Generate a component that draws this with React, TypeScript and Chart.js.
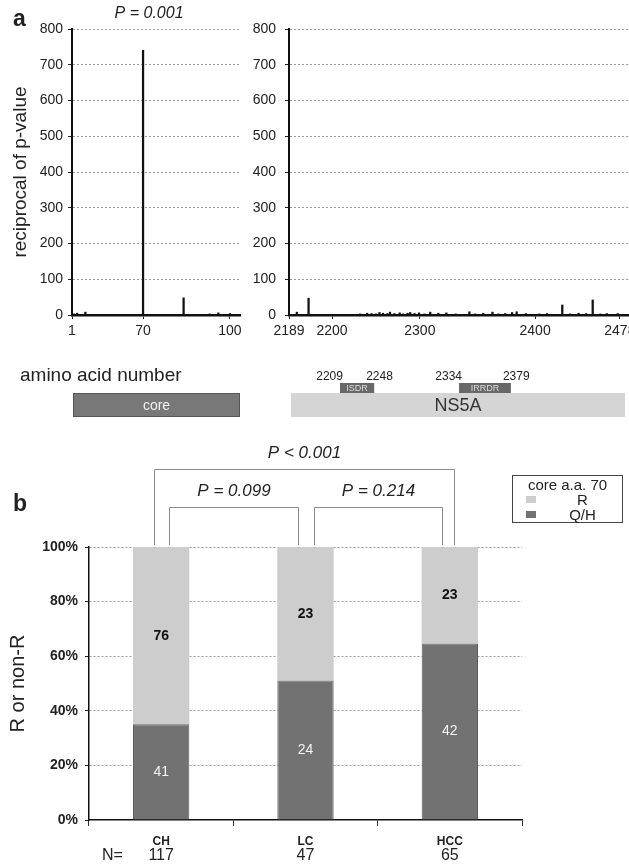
import React, { useEffect, useRef } from 'react';
import { Chart, registerables, LinearScale } from 'chart.js';

Chart.register(...registerables);

const FONT = '"Liberation Sans", Arial, Helvetica, sans-serif';
Chart.defaults.font.family = FONT;
Chart.defaults.color = '#222';

// ---------------- data ----------------
// panel a, left: core region (amino acid number -> reciprocal of p-value)
const corePositions = [3, 6, 14, 70, 84, 93, 96, 100];
const coreReciprocalP = [3, 5, 8, 740, 48, 3, 6, 4];
const coreTickValues = [1, 70, 100];
const coreTopLabel = 'P = 0.001';
const corePeakPosition = 70;

// panel a, right: NS5A region
const ns5aPositions = [2191, 2194, 2232, 2240, 2245, 2250, 2254, 2258, 2263, 2266, 2271, 2277, 2281, 2286, 2289, 2294, 2299, 2304, 2309, 2316, 2323, 2331, 2343, 2348, 2355, 2363, 2368, 2374, 2380, 2384, 2392, 2404, 2411, 2425, 2432, 2440, 2447, 2453, 2460, 2466, 2476];
const ns5aReciprocalP = [8, 47, 3, 5, 4, 3, 7, 5, 4, 8, 4, 6, 3, 5, 7, 4, 6, 3, 8, 5, 6, 3, 9, 3, 5, 8, 3, 4, 7, 9, 4, 3, 4, 28, 3, 5, 4, 42, 3, 4, 4];
const ns5aTickValues = [2189, 2200, 2300, 2400, 2478];

// NS5A sub-regions
const regionNames = ['ISDR', 'IRRDR'];
const regionStarts = [2209, 2334];
const regionEnds = [2248, 2379];

// panel b
const groups = ['CH', 'LC', 'HCC'];
const seriesNames = ['Q/H', 'R'];
const qhCounts = [41, 24, 42];
const rCounts = [76, 23, 23];
const groupN = [117, 47, 65];
const bracketFrom = [0, 0, 1];
const bracketTo = [2, 1, 2];
const bracketLabels = ['P < 0.001', 'P = 0.099', 'P = 0.214'];

// ---------------- piecewise linear scale ----------------
class PiecewiseLinearScale extends LinearScale {
  static id = 'piecewise';
  static defaults = LinearScale.defaults;
  _bp(): number[][] | null {
    const o: any = this.options;
    let bp = o && o.breakpoints;
    if (!bp) {
      const raw: any = (this.chart.config as any).options?.scales?.[this.id];
      bp = raw && raw.breakpoints;
    }
    return bp || null;
  }
  getPixelForValue(value: number) {
    const bp = this._bp();
    if (!bp || bp.length < 2) return super.getPixelForValue(value);
    let i = 0;
    while (i < bp.length - 2 && value > bp[i + 1][0]) i++;
    const [v0, f0] = bp[i];
    const [v1, f1] = bp[i + 1];
    const frac = f0 + ((value - v0) / (v1 - v0)) * (f1 - f0);
    return this.getPixelForDecimal(frac);
  }
  getValueForPixel(pixel: number) {
    const bp = this._bp();
    if (!bp || bp.length < 2) return super.getValueForPixel(pixel);
    const d = this.getDecimalForPixel(pixel);
    let i = 0;
    while (i < bp.length - 2 && d > bp[i + 1][1]) i++;
    const [v0, f0] = bp[i];
    const [v1, f1] = bp[i + 1];
    return v0 + ((d - f0) / (f1 - f0)) * (v1 - v0);
  }
}
Chart.register(PiecewiseLinearScale as any);

const gridColor = (c: any) => (c.tick && c.tick.value === 0 ? 'rgba(0,0,0,0)' : '#9c9c9c');

function topPanelOptions(opts: {
  min: number; max: number; breakpoints: number[][]; tickValues: number[];
  yWidth: number; yPad: number; rightPad: number; title?: string;
}) {
  return {
    animation: false,
    responsive: false,
    events: [],
    layout: { padding: { top: 29, right: opts.rightPad, left: 0, bottom: 85 } },
    plugins: { legend: { display: false }, tooltip: { enabled: false } },
    scales: {
      x: {
        type: 'piecewise',
        min: opts.min,
        max: opts.max,
        breakpoints: opts.breakpoints,
        offset: false,
        afterBuildTicks: (s: any) => { s.ticks = opts.tickValues.map((v) => ({ value: v })); },
        afterFit: (s: any) => { s.height = 30; s.paddingLeft = 0; s.paddingRight = 0; },
        ticks: { autoSkip: false, maxRotation: 0, minRotation: 0, padding: 4, font: { size: 14 }, color: '#222', callback: (v: any) => String(v) },
        grid: { display: true, drawOnChartArea: false, drawTicks: true, tickLength: 4, tickColor: '#222', offset: false },
        border: { display: true, color: '#111', width: 2.5 },
      },
      y: {
        min: 0,
        max: 800,
        ticks: { stepSize: 100, padding: opts.yPad, font: { size: 14 }, color: '#222' },
        grid: { color: gridColor, lineWidth: 1, drawTicks: true, tickLength: 4, tickColor: '#222' },
        border: { color: '#111', width: 2, dash: [2, 2] },
        title: opts.title
          ? { display: true, text: opts.title, font: { size: 19 }, color: '#222', padding: { top: 9, bottom: 0 } }
          : { display: false },
        afterFit: (s: any) => { s.width = opts.yWidth; s.paddingTop = 0; s.paddingBottom = 0; },
      },
    },
  } as any;
}

const barDataset = (xs: number[], ys: number[]) => ({
  data: xs.map((x, i) => ({ x, y: ys[i] })),
  backgroundColor: '#111',
  borderWidth: 0,
  barThickness: 1.6,
});

const BAR_TOP = 393;
const BAR_BOTTOM = 417;

const corePlugin = {
  id: 'coreDecor',
  afterDraw(chart: any) {
    const { ctx } = chart;
    const xs = chart.scales.x;
    ctx.save();
    // P label over peak
    ctx.font = `italic 16px ${FONT}`;
    ctx.fillStyle = '#222';
    ctx.textAlign = 'center';
    ctx.textBaseline = 'middle';
    ctx.fillText(coreTopLabel, xs.getPixelForValue(corePeakPosition) + 6, 14);
    // axis caption
    ctx.font = `19px ${FONT}`;
    ctx.textAlign = 'left';
    ctx.textBaseline = 'alphabetic';
    ctx.fillText('amino acid number', 20, 381);
    // core bar
    const x0 = xs.left + 1;
    const x1 = xs.right;
    ctx.fillStyle = '#787878';
    ctx.fillRect(x0, BAR_TOP, x1 - x0, BAR_BOTTOM - BAR_TOP);
    ctx.strokeStyle = '#555';
    ctx.lineWidth = 1;
    ctx.strokeRect(x0 + 0.5, BAR_TOP + 0.5, x1 - x0 - 1, BAR_BOTTOM - BAR_TOP - 1);
    ctx.fillStyle = '#f2f2f2';
    ctx.font = `14px ${FONT}`;
    ctx.textAlign = 'center';
    ctx.textBaseline = 'middle';
    ctx.fillText('core', (x0 + x1) / 2, (BAR_TOP + BAR_BOTTOM) / 2 + 1);
    ctx.restore();
  },
};

const ns5aPlugin = {
  id: 'ns5aDecor',
  afterDraw(chart: any) {
    const { ctx } = chart;
    const xs = chart.scales.x;
    ctx.save();
    const x0 = xs.left + 2;
    const x1 = xs.right - 3;
    ctx.fillStyle = '#d5d5d5';
    ctx.fillRect(x0, BAR_TOP, x1 - x0, BAR_BOTTOM - BAR_TOP);
    ctx.fillStyle = '#333';
    ctx.font = `18px ${FONT}`;
    ctx.textAlign = 'center';
    ctx.textBaseline = 'middle';
    ctx.fillText('NS5A', (x0 + x1) / 2, (BAR_TOP + BAR_BOTTOM) / 2 + 1);
    regionNames.forEach((name, i) => {
      const a = xs.getPixelForValue(regionStarts[i]);
      const b = xs.getPixelForValue(regionEnds[i]);
      ctx.fillStyle = '#686868';
      ctx.fillRect(a, BAR_TOP - 10, b - a, 10);
      ctx.fillStyle = '#ddd';
      ctx.font = `9px ${FONT}`;
      ctx.textAlign = 'center';
      ctx.textBaseline = 'middle';
      ctx.fillText(name, (a + b) / 2, BAR_TOP - 4.5);
      ctx.fillStyle = '#222';
      ctx.font = `12px ${FONT}`;
      ctx.textBaseline = 'alphabetic';
      ctx.textAlign = 'right';
      ctx.fillText(String(regionStarts[i]), a + 3, BAR_TOP - 13);
      ctx.textAlign = 'left';
      ctx.fillText(String(regionEnds[i]), b - 8, BAR_TOP - 13);
    });
    ctx.restore();
  },
};

const segmentLabelPlugin = {
  id: 'segLabels',
  afterDatasetsDraw(chart: any) {
    const { ctx } = chart;
    const countsBySeries = [qhCounts, rCounts];
    chart.data.datasets.forEach((_: any, di: number) => {
      const meta = chart.getDatasetMeta(di);
      meta.data.forEach((el: any, i: number) => {
        const { x, y, base } = el.getProps(['x', 'y', 'base'], true);
        ctx.save();
        ctx.font = di === 0 ? `14px ${FONT}` : `bold 14px ${FONT}`;
        ctx.fillStyle = di === 0 ? '#f4f4f4' : '#111';
        ctx.textAlign = 'center';
        ctx.textBaseline = 'middle';
        ctx.fillText(String(countsBySeries[di][i]), x, (y + base) / 2);
        ctx.restore();
      });
    });
  },
};

const bracketPlugin = {
  id: 'brackets',
  afterDraw(chart: any) {
    const { ctx, chartArea } = chart;
    const xs = chart.scales.x;
    ctx.save();
    ctx.strokeStyle = '#8c8c8c';
    ctx.lineWidth = 1;
    bracketLabels.forEach((label, k) => {
      const wide = bracketTo[k] - bracketFrom[k] > 1;
      const xl = Math.round(xs.getPixelForValue(bracketFrom[k]) + (wide ? -7 : 8)) + 0.5;
      const xr = Math.round(xs.getPixelForValue(bracketTo[k]) + (wide ? 4 : -8)) + 0.5;
      const yTop = wide ? 29.5 : 67.5;
      ctx.beginPath();
      ctx.moveTo(xl, chartArea.top - 2);
      ctx.lineTo(xl, yTop);
      ctx.lineTo(xr, yTop);
      ctx.lineTo(xr, chartArea.top - 2);
      ctx.stroke();
      ctx.fillStyle = '#222';
      ctx.font = `italic 17px ${FONT}`;
      ctx.textAlign = 'center';
      ctx.textBaseline = 'middle';
      ctx.fillText(label, (xl + xr) / 2, yTop - 16);
    });
    // N row
    ctx.font = `16px ${FONT}`;
    ctx.fillStyle = '#222';
    ctx.textBaseline = 'middle';
    ctx.textAlign = 'left';
    ctx.fillText('N=', 102, 416);
    ctx.textAlign = 'center';
    groupN.forEach((n, i) => ctx.fillText(String(n), xs.getPixelForValue(i), 416));
    ctx.restore();
  },
};

export default function App() {
  const leftRef = useRef<HTMLCanvasElement>(null);
  const rightRef = useRef<HTMLCanvasElement>(null);
  const bRef = useRef<HTMLCanvasElement>(null);

  useEffect(() => {
    document.body.style.margin = '0';
    const charts: Chart[] = [];
    charts.push(
      new Chart(leftRef.current as HTMLCanvasElement, {
        type: 'bar',
        data: { datasets: [barDataset(corePositions, coreReciprocalP) as any] },
        options: topPanelOptions({
          min: 1, max: 103.5,
          breakpoints: [[1, 0], [70, 0.423], [100, 0.94], [103.5, 1]],
          tickValues: coreTickValues, yWidth: 72, yPad: 5, rightPad: 5,
          title: 'reciprocal of p-value',
        }),
        plugins: [corePlugin],
      } as any)
    );
    charts.push(
      new Chart(rightRef.current as HTMLCanvasElement, {
        type: 'bar',
        data: { datasets: [barDataset(ns5aPositions, ns5aReciprocalP) as any] },
        options: topPanelOptions({
          min: 2189, max: 2487,
          breakpoints: [[2189, 0], [2200, 0.127], [2300, 0.386], [2400, 0.726], [2478, 0.976], [2487, 1]],
          tickValues: ns5aTickValues, yWidth: 44, yPad: 9, rightPad: 1,
        }),
        plugins: [ns5aPlugin],
      } as any)
    );
    charts.push(
      new Chart(bRef.current as HTMLCanvasElement, {
        type: 'bar',
        data: {
          labels: groups,
          datasets: [
            { label: seriesNames[0], data: qhCounts.map((c, i) => (c / groupN[i]) * 100), backgroundColor: '#727272', borderColor: '#5a5a5a', borderWidth: 1 },
            { label: seriesNames[1], data: rCounts.map((c, i) => (c / groupN[i]) * 100), backgroundColor: '#cdcdcd', borderWidth: 0 },
          ],
        },
        options: {
          animation: false,
          responsive: false,
          events: [],
          layout: { padding: { top: 107, right: 107, left: 0, bottom: 0 } },
          datasets: { bar: { barPercentage: 0.39, categoryPercentage: 1 } },
          plugins: { legend: { display: false }, tooltip: { enabled: false } },
          scales: {
            x: {
              stacked: true,
              grid: { display: true, drawOnChartArea: false, drawTicks: true, tickLength: 6, tickColor: '#333', offset: true },
              border: { color: '#111', width: 1.5 },
              ticks: { font: { size: 12, weight: 'bold' }, color: '#222', padding: 8 },
              afterFit: (s: any) => { s.height = 45; s.paddingLeft = 0; s.paddingRight = 0; },
            },
            y: {
              stacked: true,
              min: 0,
              max: 100,
              ticks: { stepSize: 20, callback: (v: any) => v + '%', font: { size: 14, weight: 'bold' }, color: '#222', padding: 7 },
              grid: { color: gridColor, lineWidth: 1, drawTicks: true, tickLength: 4, tickColor: '#222' },
              border: { color: '#111', width: 1.5, dash: [2, 2] },
              title: { display: true, text: 'R or non-R', font: { size: 20 }, color: '#222', padding: { top: 6, bottom: 0 } },
              afterFit: (s: any) => { s.width = 89; s.paddingTop = 0; s.paddingBottom = 0; },
            },
          },
        },
        plugins: [segmentLabelPlugin, bracketPlugin],
      } as any)
    );
    return () => charts.forEach((c) => c.destroy());
  }, []);

  const legendColors = ['#727272', '#cdcdcd'];

  return (
    <div style={{ position: 'absolute', left: 0, top: 0, width: 629, height: 865, background: '#fff', fontFamily: FONT, color: '#222', overflow: 'hidden' }}>
      <canvas ref={leftRef} width={245} height={430} style={{ position: 'absolute', left: 0, top: 0 }} />
      <canvas ref={rightRef} width={384} height={430} style={{ position: 'absolute', left: 245, top: 0 }} />
      <canvas ref={bRef} width={629} height={425} style={{ position: 'absolute', left: 0, top: 440 }} />
      <div style={{ position: 'absolute', left: 13, top: 7, font: `bold 23px ${FONT}`, lineHeight: '23px' }}>a</div>
      <div style={{ position: 'absolute', left: 13, top: 492, font: `bold 23px ${FONT}`, lineHeight: '23px' }}>b</div>
      <div style={{ position: 'absolute', left: 512, top: 475, width: 111, height: 48, border: '1px solid #444', boxSizing: 'border-box', fontSize: 15, lineHeight: '15px' }}>
        <div style={{ textAlign: 'center', marginTop: 1 }}>core a.a. 70</div>
        {[1, 0].map((si, row) => (
          <div key={si} style={{ position: 'relative', height: 15 }}>
            <span style={{ position: 'absolute', left: 13, top: 4, width: 10, height: 7, background: legendColors[si] }} />
            <span style={{ position: 'absolute', left: 30, right: 0, top: 0, textAlign: 'center' }}>{seriesNames[si]}</span>
          </div>
        ))}
      </div>
    </div>
  );
}
